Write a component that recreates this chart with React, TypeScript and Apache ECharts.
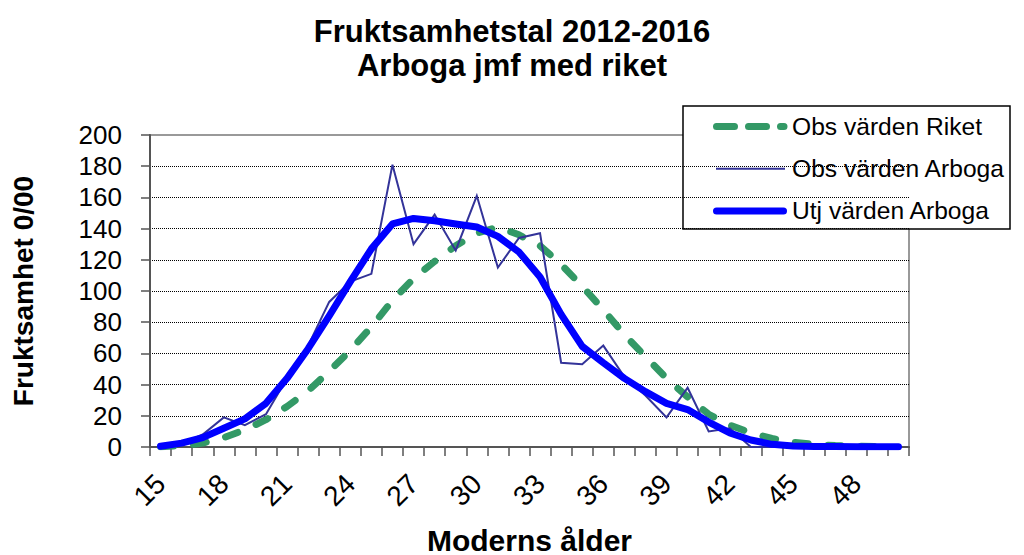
import React, { useEffect, useRef } from "react";
import * as echarts from "echarts";

const ages = [
  "15", "16", "17", "18", "19", "20", "21", "22", "23", "24", "25", "26",
  "27", "28", "29", "30", "31", "32", "33", "34", "35", "36", "37", "38",
  "39", "40", "41", "42", "43", "44", "45", "46", "47", "48", "49", "50",
];

const obsRiket = [
  0.2, 0.8, 2.5, 6, 11, 17.5, 26, 36, 48.5, 62, 77, 94,
  108, 119, 129, 137, 141, 136, 129, 117, 103, 88, 72, 58,
  44, 32, 21, 14, 9, 5.5, 3, 1.7, 0.9, 0.5, 0.3, null,
];

const obsArboga = [
  0, 2, 8, 19, 14, 21, 44, 65, 93, 106, 111, 181,
  130, 149, 126, 161, 115, 134, 137, 54, 53, 65, 45, 33,
  19, 38, 10, 12, 0, 0, 0, 0, 0, 0, 0, 0,
];

const utjArboga = [
  0.5, 2.5, 6, 12, 18, 28, 44, 63, 84, 106, 127, 143,
  146.5, 145, 143, 141, 135, 125, 109, 85, 64.5, 54, 44, 35.5,
  28, 24, 16, 9, 4.5, 1.7, 0.7, 0.4, 0.3, 0.2, 0.1, 0.1,
];

const yTicks = { min: 0, max: 200, interval: 20 };

const seriesNames = ["Obs värden Riket", "Obs värden Arboga", "Utj värden Arboga"];
const titleLines = ["Fruktsamhetstal 2012-2016", "Arboga jmf med riket"];
const yAxisTitle = "Fruktsamhet 0/00";
const xAxisTitle = "Moderns ålder";

const FONT = "'Liberation Sans', Arial, sans-serif";
const GREEN = "#339966";
const NAVY = "#333399";
const BLUE = "#0000ff";

export default function App() {
  const ref = useRef<HTMLDivElement>(null);

  useEffect(() => {
    document.body.style.margin = "0";
    if (!ref.current) return;
    const chart = echarts.init(ref.current, null, { renderer: "svg" });

    const legendX = 683;
    const legendY = 106;
    const rowY = [126.6, 168.8, 210.9];

    chart.setOption({
      animation: false,
      backgroundColor: "#ffffff",
      title: {
        text: titleLines.join("\n"),
        left: "center",
        top: 9,
        textStyle: {
          fontFamily: FONT,
          fontSize: 31,
          fontWeight: "bold",
          color: "#000",
          lineHeight: 34,
        },
      },
      grid: {
        left: 150,
        top: 135,
        right: 115,
        bottom: 108,
        containLabel: false,
        outerBoundsMode: "none",
        show: true,
        borderColor: "#999",
        borderWidth: 2,
        backgroundColor: "transparent",
      },
      xAxis: {
        type: "category",
        data: ages,
        boundaryGap: true,
        name: xAxisTitle,
        nameLocation: "middle",
        nameGap: 80,
        nameTextStyle: {
          fontFamily: FONT,
          fontSize: 30,
          fontWeight: "bold",
          color: "#000",
          lineHeight: 26,
        },
        axisLine: { show: true, lineStyle: { color: "#555", width: 2 } },
        axisTick: {
          show: true,
          interval: 0,
          length: 9,
          inside: false,
          lineStyle: { color: "#555", width: 1.5 },
        },
        axisLabel: {
          interval: 2,
          rotate: 45,
          margin: 32,
          fontFamily: FONT,
          fontSize: 28,
          color: "#000",
        },
        splitLine: { show: false },
      },
      yAxis: {
        type: "value",
        min: yTicks.min,
        max: yTicks.max,
        interval: yTicks.interval,
        name: yAxisTitle,
        nameLocation: "middle",
        nameRotate: 90,
        nameGap: 113,
        nameTextStyle: {
          fontFamily: FONT,
          fontSize: 28,
          fontWeight: "bold",
          color: "#000",
        },
        axisLine: { show: true, lineStyle: { color: "#555", width: 2 } },
        axisTick: {
          show: true,
          length: 9,
          inside: false,
          lineStyle: { color: "#555", width: 1.5 },
        },
        axisLabel: {
          margin: 28,
          fontFamily: FONT,
          fontSize: 26,
          color: "#000",
        },
        splitLine: {
          show: true,
          showMinLine: false,
          showMaxLine: false,
          lineStyle: { type: "dotted", color: "#000", width: 1 },
        },
      },
      series: [
        {
          name: seriesNames[0],
          type: "line",
          data: obsRiket,
          symbol: "none",
          showSymbol: false,
          connectNulls: false,
          z: 2,
          lineStyle: {
            color: GREEN,
            width: 7,
            type: [13, 20],
            cap: "round",
            join: "round",
          },
        },
        {
          name: seriesNames[1],
          type: "line",
          data: obsArboga,
          symbol: "none",
          showSymbol: false,
          z: 3,
          lineStyle: { color: NAVY, width: 2, join: "miter" },
        },
        {
          name: seriesNames[2],
          type: "line",
          data: utjArboga,
          symbol: "none",
          showSymbol: false,
          z: 4,
          lineStyle: { color: BLUE, width: 7, cap: "round", join: "round" },
        },
      ],
      graphic: [
        {
          type: "group",
          z: 100,
          children: [
            {
              type: "rect",
              shape: { x: legendX, y: legendY, width: 327, height: 123 },
              style: { fill: "#fff", stroke: "#000", lineWidth: 1.5 },
            },
            {
              type: "line",
              shape: { x1: 716.5, y1: rowY[0], x2: 784, y2: rowY[0] },
              style: {
                stroke: GREEN,
                lineWidth: 7,
                lineDash: [18, 14],
                lineCap: "round",
              },
            },
            {
              type: "line",
              shape: { x1: 716, y1: rowY[1], x2: 785, y2: rowY[1] },
              style: { stroke: NAVY, lineWidth: 2 },
            },
            {
              type: "line",
              shape: { x1: 716.5, y1: rowY[2], x2: 783.5, y2: rowY[2] },
              style: { stroke: BLUE, lineWidth: 7, lineCap: "round" },
            },
            ...seriesNames.map((n, i) => ({
              type: "text",
              x: 792,
              y: rowY[i],
              style: {
                text: n,
                fontFamily: FONT,
                fontSize: 24.6,
                fill: "#000",
                textVerticalAlign: "middle",
                verticalAlign: "middle",
              },
            })),
          ],
        },
      ],
    });

    return () => {
      chart.dispose();
    };
  }, []);

  return <div ref={ref} style={{ width: 1024, height: 555 }} />;
}
